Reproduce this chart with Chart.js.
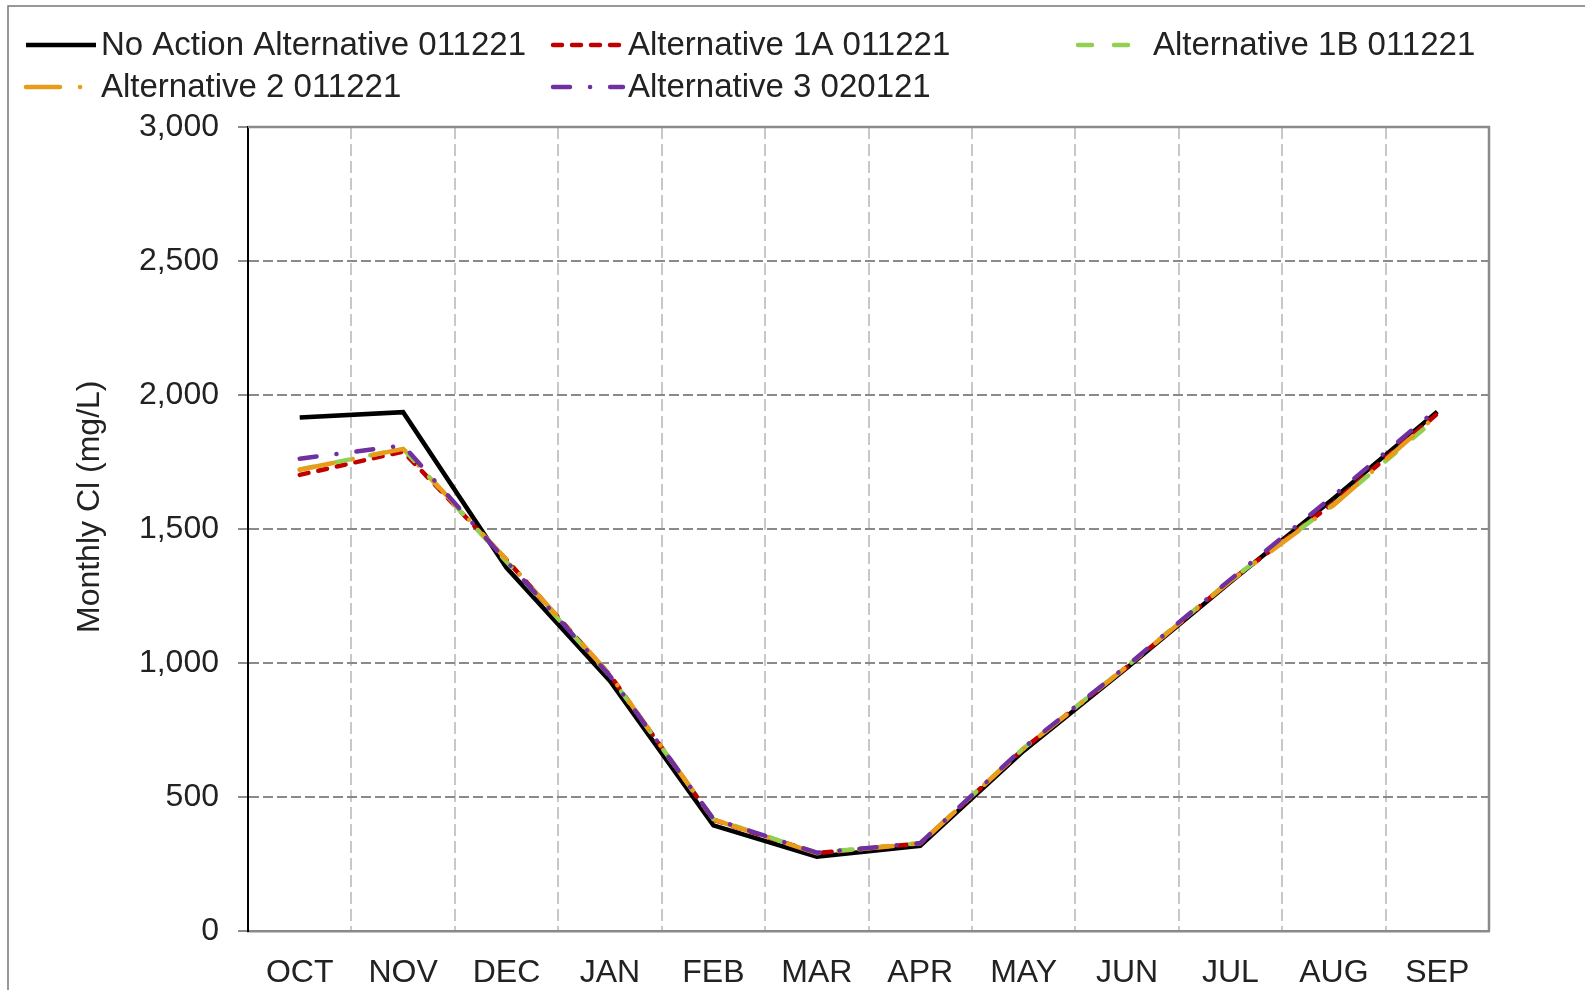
<!DOCTYPE html>
<html>
<head>
  <meta charset="utf-8">
  <title>Monthly Cl</title>
  <script src="https://cdn.jsdelivr.net/npm/chart.js"></script>
  <style>
    body { margin: 0; background: #fff; }
    #chart { display: block; }
  </style>
</head>
<body>
<canvas id="chart" width="1585" height="990"></canvas>
<script>
const months = ['OCT','NOV','DEC','JAN','FEB','MAR','APR','MAY','JUN','JUL','AUG','SEP'];
const seriesNames = ['No Action Alternative 011221','Alternative 1A 011221','Alternative 1B 011221','Alternative 2 011221','Alternative 3 020121'];
const noAction = [1916, 1936, 1355, 933, 394, 277, 318, 672, 982, 1302, 1615, 1938];
const alt1A    = [1702, 1789, 1385, 955, 415, 291, 326, 680, 986, 1307, 1598, 1930];
const alt1B    = [1722, 1800, 1378, 952, 418, 292, 328, 682, 988, 1310, 1592, 1915];
const alt2     = [1721, 1799, 1386, 956, 416, 290, 327, 680, 987, 1306, 1590, 1926];
const alt3     = [1762, 1812, 1380, 952, 418, 292, 328, 684, 990, 1312, 1625, 1948];

const FONT = '"Liberation Sans", Arial, sans-serif';

// excel-style legend: fixed columns, two rows
const legendGrid = {
  id: 'legendGrid',
  afterDraw(chart) {
    const ctx = chart.ctx;
    const colX = [24, 551, 1076];
    const rowY = [45, 87];
    chart.data.datasets.forEach((ds, i) => {
      const x = colX[i % 3], y = rowY[Math.floor(i / 3)];
      ctx.save();
      ctx.strokeStyle = ds.borderColor;
      ctx.lineWidth = ds.borderWidth;
      ctx.lineCap = ds.borderCapStyle || 'butt';
      ctx.setLineDash(ds.borderDash || []);
      ctx.beginPath();
      ctx.moveTo(x + 2, y);
      ctx.lineTo(x + 72, y);
      ctx.stroke();
      ctx.setLineDash([]);
      ctx.fillStyle = '#222';
      ctx.font = '33px ' + FONT;
      ctx.textBaseline = 'middle';
      ctx.fillText(ds.label, x + 77, y + 1);
      ctx.restore();
    });
  }
};

// outer frame + top/right edge of plot area
const frame = {
  id: 'frame',
  beforeDraw(chart) {
    const ctx = chart.ctx;
    ctx.save();
    ctx.strokeStyle = '#777';
    ctx.lineWidth = 1.5;
    ctx.strokeRect(8, 6, 1700, 1100);
    ctx.restore();
  },
  beforeDatasetsDraw(chart) {
    const {ctx, chartArea: a} = chart;
    ctx.save();
    ctx.strokeStyle = '#8a8a8a';
    ctx.lineWidth = 2.5;
    ctx.beginPath();
    ctx.moveTo(a.left, a.top);
    ctx.lineTo(a.right, a.top);
    ctx.lineTo(a.right, a.bottom);
    ctx.stroke();
    ctx.restore();
  }
};

const mk = (i, data, color, dash, order) => ({
  label: seriesNames[i],
  data,
  borderColor: color,
  backgroundColor: color,
  borderWidth: 4.5,
  borderDash: dash,
  borderCapStyle: dash.length ? 'round' : 'butt',
  pointRadius: 0,
  tension: 0,
  order
});

new Chart(document.getElementById('chart'), {
  type: 'line',
  data: {
    labels: months,
    datasets: [
      mk(0, noAction, '#000000', [], 5),
      mk(1, alt1A, '#C00000', [9, 10], 4),
      mk(2, alt1B, '#92D050', [14, 22], 3),
      mk(3, alt2, '#E89C1A', [34, 20, 0.1, 20], 2),
      mk(4, alt3, '#7030A0', [17, 20, 0.1, 20], 1)
    ]
  },
  options: {
    responsive: false,
    animation: false,
    layout: { padding: { top: 127, right: 96, bottom: 0, left: 0 } },
    plugins: { legend: { display: false }, tooltip: { enabled: false } },
    scales: {
      x: {
        offset: true,
        grid: { offset: true, color: '#c8c8c8', lineWidth: 2, drawTicks: false },
        border: { display: true, color: '#8a8a8a', width: 2.5, dash: [12, 5] },
        ticks: { color: '#222', font: { family: FONT, size: 32 }, padding: 23, maxRotation: 0, autoSkip: false },
        afterFit(s) { s.height = 59; }
      },
      y: {
        min: 0, max: 3000,
        grid: { color: '#8a8a8a', lineWidth: 2, tickLength: 10, tickColor: '#666', tickWidth: 1.5, tickBorderDash: [] },
        border: { display: true, color: '#000', width: 2, dash: [10, 4] },
        ticks: { stepSize: 500, color: '#222', font: { family: FONT, size: 32 }, padding: 19 },
        title: { display: true, text: '     Monthly Cl (mg/L)', color: '#222', font: { family: FONT, size: 32 }, padding: { top: 71, bottom: 0 } },
        afterFit(s) { s.width = 248; }
      }
    }
  },
  plugins: [frame, legendGrid]
});
</script>
</body>
</html>
